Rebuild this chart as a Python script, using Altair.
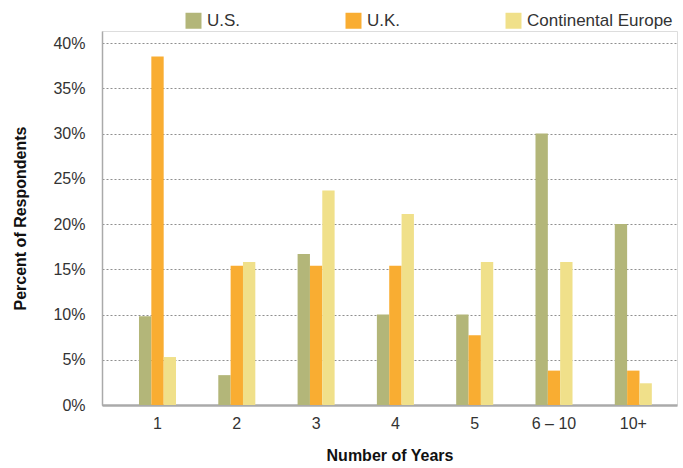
import altair as alt
import pandas as pd

# Tenure survey: share of respondents by number of years, per region
years = ["1", "2", "3", "4", "5", "6 – 10", "10+"]
regions = ["U.S.", "U.K.", "Continental Europe"]
us = [9.8, 3.3, 16.7, 10.0, 10.0, 30.0, 20.0]
uk = [38.5, 15.4, 15.4, 15.4, 7.7, 3.8, 3.8]
europe = [5.3, 15.8, 23.7, 21.1, 15.8, 15.8, 2.4]
colors = ["#b3b679", "#f9ad32", "#f0e08a"]
y_ticks = [0, 0.05, 0.10, 0.15, 0.20, 0.25, 0.30, 0.35, 0.40]

rows = []
for region, series in zip(regions, [us, uk, europe]):
    for year, value in zip(years, series):
        rows.append({"Years": year, "Region": region, "Share": value / 100})
df = pd.DataFrame(rows)

label_font = "Liberation Sans"
title_font = "Liberation Sans"

chart = (
    alt.Chart(df)
    .mark_bar()
    .encode(
        x=alt.X(
            "Years:N",
            sort=years,
            scale=alt.Scale(paddingInner=0.533, paddingOuter=0.392, align=0.595),
            axis=alt.Axis(
                title="Number of Years",
                labelAngle=0,
                ticks=False,
                labelPadding=10,
                labelFontSize=16,
                labelFont=label_font,
                labelColor="#333333",
                titleFont=title_font,
                titleFontSize=16,
                titleFontWeight="bold",
                titleColor="#111111",
                titlePadding=16,
                domainColor="#aaaaaa",
                domainWidth=2.5,
                grid=False,
            ),
        ),
        xOffset=alt.XOffset("Region:N", sort=regions),
        y=alt.Y(
            "Share:Q",
            scale=alt.Scale(domain=[0, 0.4133], nice=False),
            axis=alt.Axis(
                title="Percent of Respondents",
                values=y_ticks,
                format=".0%",
                ticks=False,
                labelPadding=17,
                labelFontSize=16,
                labelFont=label_font,
                labelColor="#333333",
                titleFont=title_font,
                titleFontSize=16,
                titleFontWeight="bold",
                titleColor="#111111",
                titlePadding=24,
                domainColor="#aaaaaa",
                domainWidth=1.5,
                grid=True,
                gridColor="#8f8f8f",
                gridDash=[2, 2],
                gridWidth=1,
            ),
        ),
        color=alt.Color(
            "Region:N",
            sort=regions,
            scale=alt.Scale(domain=regions, range=colors),
            legend=alt.Legend(
                title=None,
                orient="none",
                direction="horizontal",
                legendX=83,
                legendY=-19,
                symbolType="square",
                symbolSize=256,
                symbolStrokeWidth=0,
                symbolOpacity=1,
                labelFontSize=17,
                labelFont=label_font,
                labelColor="#333333",
                labelOffset=5,
                columnPadding=104,
            ),
        ),
    )
    .properties(
        width=575,
        height=374,
        autosize=alt.AutoSizeParams(type="none"),
        padding={"left": 102, "top": 31, "right": 6, "bottom": 63},
    )
    .configure_view(stroke=None)
    .configure(background="white")
)

chart.save("out.html", embed_options={"renderer": "svg", "actions": False})
